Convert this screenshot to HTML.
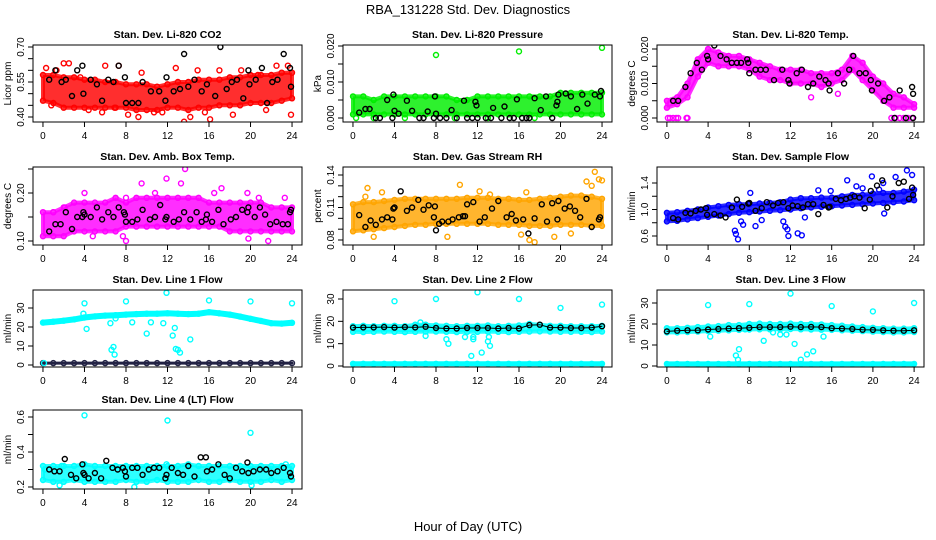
<!DOCTYPE html>
<html><head><meta charset="utf-8"><style>
html,body{margin:0;padding:0;background:#fff;}
svg{display:block;font-family:"Liberation Sans",sans-serif;}
</style></head><body>
<svg id="chart" width="936" height="540" viewBox="0 0 936 540">
<text x="468" y="14" text-anchor="middle" font-size="13">RBA_131228  Std. Dev. Diagnostics</text>
<text x="468" y="531" text-anchor="middle" font-size="13">Hour of Day (UTC)</text>
</svg>
<script>
const hours = [0,1,2,3,4,5,6,7,8,9,10,11,12,13,14,15,16,17,18,19,20,21,22,23,24];
const xTicks = [0,4,8,12,16,20,24];

// P1 CO2
const co2Hi = [0.58,0.58,0.57,0.57,0.56,0.56,0.55,0.55,0.54,0.54,0.54,0.53,0.54,0.55,0.55,0.56,0.56,0.56,0.57,0.57,0.58,0.58,0.58,0.59,0.59];
const co2Lo = [0.47,0.46,0.44,0.44,0.44,0.44,0.44,0.44,0.44,0.43,0.43,0.43,0.44,0.44,0.43,0.44,0.44,0.45,0.45,0.45,0.46,0.46,0.46,0.47,0.48];
const co2OutX = [0.3,1.3,2.0,2.5,3.6,5.7,6.0,7.3,8.2,9.2,10.7,11.5,13.6,14.2,14.9,16.1,17.0,18.3,19.1,20.7,22.5,23.6,23.9,0.8,4.4,6.9,9.5,12.8,15.6,21.5];
const co2OutY = [0.61,0.60,0.63,0.63,0.57,0.42,0.62,0.62,0.41,0.40,0.42,0.42,0.38,0.40,0.60,0.39,0.60,0.41,0.60,0.58,0.62,0.62,0.41,0.45,0.43,0.44,0.59,0.61,0.42,0.43];
const co2BX = [0.6,1.2,1.8,2.2,2.8,3.3,3.8,3.9,4.6,5.2,5.7,6.3,6.8,7.3,7.9,8.0,8.6,9.2,9.6,10.4,11.2,11.8,11.9,12.6,13.2,13.6,14.0,14.6,15.3,15.8,16.6,17.1,17.7,18.2,18.7,19.3,19.8,19.9,20.5,21.1,21.6,22.1,22.6,23.2,23.8,23.9];
const co2BY = [0.56,0.60,0.55,0.56,0.49,0.60,0.62,0.50,0.56,0.54,0.47,0.56,0.55,0.62,0.57,0.46,0.46,0.46,0.55,0.51,0.51,0.47,0.57,0.51,0.52,0.67,0.53,0.56,0.51,0.54,0.49,0.70,0.52,0.55,0.56,0.48,0.60,0.54,0.56,0.61,0.46,0.55,0.56,0.67,0.61,0.53];

// P2 pressure
const prHi = [0.006,0.006,0.005,0.006,0.006,0.006,0.006,0.006,0.006,0.006,0.005,0.005,0.006,0.006,0.006,0.006,0.006,0.006,0.006,0.006,0.007,0.007,0.007,0.007,0.007];
const prLo = [0.001,0.001,0.001,0.001,0.001,0.001,0.001,0.001,0.001,0.001,0.001,0.001,0.001,0.001,0.001,0.001,0.001,0.001,0.001,0.001,0.001,0.001,0.001,0.001,0.001];
const prOutX = [8.0,16.0,24.0,0.3,2.0,5.0,9.8,13.0,17.5];
const prOutY = [0.0175,0.0185,0.0195,0.0,0.0,0.0,0.0,0.0,0.0];
const prBX = [2.2,2.6,3.8,6.4,6.8,7.8,8.4,9.0,10.0,11.0,11.5,12.0,12.8,13.3,14.3,15.1,15.5,16.3,16.7,17.0,19.2,0.6,1.2,1.6,3.3,3.9,4.0,4.4,5.2,5.7,7.2,7.9,8.0,9.5,10.7,11.8,11.9,13.5,14.6,15.8,17.5,18.1,18.6,19.6,19.7,19.8,20.5,21.0,21.6,22.1,22.6,23.3,23.8,23.9];
const prBY = [0,0,0,0,0,0,0,0,0,0,0,0,0,0,0,0,0,0,0,0,0,0.0015,0.0025,0.0025,0.005,0.0065,0.002,0.0012,0.0048,0.002,0.0018,0.006,0.0012,0.0022,0.0048,0.0045,0.0035,0.0028,0.0032,0.0052,0.0055,0.0022,0.006,0.0035,0.0045,0.0065,0.0068,0.006,0.0025,0.0065,0.004,0.0065,0.006,0.0075];

// P3 Li-820 temp
const tmHi = [0.005,0.006,0.010,0.017,0.020,0.019,0.018,0.018,0.017,0.016,0.015,0.014,0.014,0.014,0.013,0.013,0.013,0.014,0.018,0.016,0.012,0.010,0.007,0.006,0.004];
const tmLo = [0.003,0.004,0.006,0.012,0.016,0.015,0.015,0.015,0.014,0.012,0.011,0.011,0.010,0.010,0.010,0.009,0.010,0.011,0.014,0.011,0.008,0.005,0.003,0.003,0.003];
const tmOutX = [0.1,0.3,0.6,0.9,1.1,1.9,2.0,21.8,22.2,22.6,23.0,23.4,23.8,14.0,16.6];
const tmOutY = [0,0,0,0,0,0,0,0,0,0,0,0,0,0.006,0.007];
const tmBX = [0.6,1.1,1.8,2.3,2.9,3.4,3.9,4.0,4.6,5.2,5.8,6.3,6.8,7.2,7.8,7.9,8.0,8.6,9.1,9.6,10.4,11.2,11.8,11.9,12.6,13.1,13.7,14.2,14.8,15.4,15.7,15.8,16.6,17.2,17.7,18.1,18.7,19.3,19.8,19.9,20.5,21.1,21.6,22.1,22.6,23.2,23.8,23.9,23.9];
const tmBY = [0.005,0.005,0.009,0.013,0.016,0.014,0.018,0.017,0.021,0.018,0.017,0.016,0.016,0.016,0.017,0.016,0.013,0.014,0.014,0.014,0.011,0.014,0.011,0.010,0.013,0.014,0.009,0.010,0.012,0.011,0.010,0.008,0.013,0.010,0.014,0.018,0.013,0.013,0.011,0.008,0.010,0.005,0.006,0.000,0.008,0.000,0.009,0.007,0.000];

// P4 amb box temp
const abHi = [0.16,0.16,0.17,0.18,0.18,0.18,0.18,0.19,0.18,0.19,0.19,0.19,0.19,0.19,0.19,0.19,0.18,0.18,0.18,0.18,0.18,0.18,0.17,0.17,0.17];
const abLo = [0.11,0.11,0.11,0.12,0.12,0.12,0.12,0.12,0.13,0.13,0.13,0.13,0.13,0.13,0.13,0.13,0.13,0.13,0.12,0.12,0.12,0.12,0.12,0.12,0.12];
const abOutX = [1.0,2.1,4.0,4.8,6.3,8.0,9.5,10.8,11.9,13.3,13.7,15.3,16.5,17.2,19.7,20.8,23.3,4.8,7.7,8.0,21.7,19.8];
const abOutY = [0.16,0.17,0.20,0.26,0.28,0.19,0.22,0.20,0.23,0.22,0.25,0.29,0.20,0.21,0.20,0.19,0.19,0.11,0.11,0.10,0.10,0.105];
const abBX = [0.6,1.2,1.7,2.2,2.8,3.3,3.8,3.9,4.0,4.6,5.2,5.7,6.3,6.8,7.3,7.8,7.9,8.0,8.6,9.1,9.6,10.3,10.8,11.3,11.8,11.9,12.6,13.1,13.6,14.2,14.8,15.3,15.7,15.8,16.3,16.9,17.4,18.1,18.6,19.2,19.7,19.8,20.4,20.9,21.4,21.9,22.5,23.1,23.6,23.8,23.9];
const abBY = [0.12,0.135,0.135,0.16,0.125,0.15,0.15,0.16,0.155,0.15,0.17,0.145,0.16,0.15,0.17,0.16,0.155,0.14,0.14,0.145,0.165,0.145,0.15,0.175,0.145,0.15,0.14,0.145,0.16,0.145,0.16,0.14,0.145,0.155,0.14,0.165,0.135,0.145,0.15,0.165,0.16,0.17,0.15,0.17,0.155,0.135,0.14,0.135,0.135,0.16,0.165];

// P5 gas stream RH
const rhHi = [0.113,0.115,0.115,0.116,0.117,0.118,0.118,0.118,0.118,0.118,0.118,0.119,0.119,0.119,0.118,0.118,0.117,0.117,0.118,0.119,0.120,0.121,0.121,0.120,0.118];
const rhLo = [0.088,0.089,0.090,0.091,0.092,0.093,0.094,0.094,0.095,0.095,0.095,0.095,0.095,0.095,0.094,0.094,0.094,0.093,0.093,0.093,0.094,0.094,0.094,0.093,0.093];
const rhOutX = [1.4,1.2,2.8,10.3,12.2,13.2,16.7,17.0,22.5,23.3,23.0,23.7,24.0,2.0,9.1,16.2,17.5,19.4,21.0];
const rhOutY = [0.128,0.120,0.124,0.131,0.125,0.122,0.124,0.080,0.134,0.143,0.130,0.136,0.135,0.083,0.083,0.085,0.078,0.083,0.086];
const rhBX = [0.6,1.2,1.7,2.2,2.8,3.3,3.8,3.9,4.0,4.6,5.2,5.7,6.3,6.8,7.3,7.8,7.9,8.0,8.3,8.6,9.2,9.6,10.2,10.6,10.8,11.0,11.6,12.2,12.7,13.4,14.0,14.8,15.3,15.7,16.4,16.9,17.5,18.2,18.7,19.2,19.7,19.8,20.4,20.9,21.4,21.9,22.5,23.0,23.7,23.8];
const rhBY = [0.103,0.092,0.098,0.094,0.099,0.101,0.099,0.109,0.110,0.125,0.107,0.110,0.117,0.108,0.112,0.101,0.111,0.089,0.095,0.097,0.097,0.099,0.101,0.102,0.102,0.113,0.115,0.097,0.101,0.109,0.116,0.101,0.104,0.098,0.099,0.086,0.100,0.113,0.097,0.114,0.099,0.116,0.109,0.111,0.107,0.101,0.118,0.092,0.099,0.101];

// P6 sample flow
const sfHi = [0.95,0.96,0.98,1.00,1.03,1.05,1.07,1.08,1.08,1.09,1.10,1.11,1.15,1.17,1.17,1.18,1.18,1.20,1.22,1.22,1.24,1.25,1.25,1.27,1.30];
const sfLo = [0.82,0.83,0.85,0.87,0.89,0.91,0.93,0.95,0.96,0.97,0.98,0.99,1.00,1.02,1.03,1.04,1.05,1.06,1.07,1.08,1.09,1.10,1.11,1.12,1.14];
const sfOutX = [6.6,6.7,6.9,7.2,7.4,8.1,8.6,9.2,11.3,11.5,11.7,11.8,12.7,13.1,13.4,14.7,15.9,17.5,18.4,19.0,19.9,21.1,22.2,23.3,23.8,21.0,20.6];
const sfOutY = [0.68,0.63,0.55,0.82,0.77,1.25,0.75,0.84,0.82,0.74,0.70,0.60,0.64,0.61,0.88,1.29,1.28,1.44,1.35,1.32,1.50,0.94,1.49,1.59,1.52,1.40,1.30];
const sfBX = [0.6,1.1,1.8,2.3,2.8,3.3,3.8,3.9,4.6,5.2,5.7,6.3,6.8,7.3,7.9,8.0,8.6,9.2,9.7,10.3,10.8,11.3,11.8,12.2,12.7,13.2,13.7,14.2,14.7,15.2,15.7,15.8,16.4,16.9,17.4,17.8,18.2,18.7,19.2,19.7,19.8,20.4,20.9,21.4,21.9,22.5,23.0,23.5,23.8,23.9];
const sfBY = [0.87,0.85,0.95,0.94,0.98,1.00,1.02,0.92,0.93,0.91,0.88,1.03,1.15,1.04,1.09,1.10,0.98,1.02,1.11,1.06,1.10,1.11,1.02,1.06,1.05,1.03,1.08,1.08,0.93,1.07,1.03,1.04,1.16,1.14,1.16,1.18,1.20,1.18,1.02,1.15,1.28,1.36,1.44,1.03,1.20,1.40,1.42,1.16,1.33,1.22];

// P7 line 1 flow
const l1Curve = [22.3,22.8,23.3,24.0,25.0,25.6,26.0,26.2,26.5,26.8,27.0,27.0,27.2,27.0,26.8,27.0,27.8,27.2,26.5,25.5,24.3,23.2,22.0,21.8,22.2];
const l1Zero = [1,1,1,1,1,1,1,1,1,1,1,1,1,1,1,1,1,1,1,1,1,1,1,1,1];
const l1OutX = [4.0,4.2,3.9,6.5,6.6,6.8,6.9,7.0,8.0,8.6,10.0,10.4,11.6,11.9,12.5,12.7,12.8,13.0,13.2,14.2,16.0,20.0,24.0,0.1];
const l1OutY = [32.5,19,27,22,8,9.5,5.5,24.5,33.5,22.5,16.5,22.5,22,38,15.5,19.5,8.5,8,6.5,13.5,34,33.5,32.5,1];

// P8 line 2 flow
const l2Hi = [17.8,18.0,17.8,18.0,18.0,17.8,18.5,18.5,18.2,18.0,17.8,18.0,18.0,18.2,17.8,18.0,18.2,18.8,18.5,18.0,18.0,17.8,17.8,17.8,18.0];
const l2Lo = [15.3,15.2,15.3,15.4,15.3,15.2,15.3,15.4,15.4,15.3,15.2,15.3,15.3,15.4,15.3,15.2,15.3,15.4,15.5,15.4,15.3,15.3,15.3,15.2,15.4];
const l2Black = [17.2,17.3,17.3,17.4,17.2,17.4,17.3,17.6,17.0,16.8,16.8,17.0,17.0,17.0,16.8,17.0,16.8,18.3,18.5,17.2,17.2,17.0,17.0,17.2,17.8];
const l2Zero = [1,1,1,1,1,1,1,1,1,1,1,1,1,1,1,1,1,1,1,1,1,1,1,1,1];
const l2OutX = [4.0,8.0,12.0,16.0,20.0,24.0,9.0,9.2,10.8,11.4,11.6,11.6,12.4,13.0,13.2,6.5,7.0,13.1];
const l2OutY = [29,30,33,30,26,27.5,12,10,13,4.5,12,13,6,11,9,19.5,13.5,13];

// P9 line 3 flow
const l3Hi = [18.0,18.0,18.2,18.5,18.8,19.0,19.5,19.5,20.0,20.2,20.0,20.0,20.2,20.0,20.0,19.8,19.5,19.2,18.8,18.5,18.2,18.0,17.8,17.8,18.0];
const l3Lo = [16.0,16.0,16.2,16.4,16.6,16.8,17.0,17.2,17.4,17.5,17.5,17.5,17.6,17.5,17.4,17.3,17.2,17.0,16.8,16.6,16.4,16.2,16.0,16.0,16.2];
const l3Black = [16.5,16.8,17.0,17.0,17.4,17.6,17.8,18.0,18.2,18.5,18.5,18.5,18.7,18.5,18.6,18.5,18.0,17.8,17.6,17.3,17.2,17.0,16.8,16.8,17.0];
const l3Zero = [1,1,1,1,1,1,1,1,1,1,1,1,1,1,1,1,1,1,1,1,1,1,1,1,1];
const l3OutX = [4.0,8.0,12.0,16.0,20.0,24.0,6.7,6.9,7.0,9.4,10.3,11.0,11.6,12.4,13.6,15.2,7.6,14.2,13.0,4.2];
const l3OutY = [29,29.5,34.5,28.5,26,30,5,3,8,12,16,15,15,10.5,5.5,14,17.5,7,3,14];

// P10 line 4 flow
const l4Hi = [0.32,0.32,0.32,0.32,0.33,0.32,0.32,0.32,0.32,0.32,0.32,0.32,0.32,0.32,0.33,0.32,0.32,0.32,0.32,0.32,0.32,0.32,0.32,0.32,0.32];
const l4Lo = [0.24,0.23,0.23,0.24,0.23,0.23,0.23,0.23,0.24,0.23,0.23,0.24,0.23,0.23,0.23,0.24,0.23,0.23,0.24,0.23,0.23,0.23,0.24,0.23,0.24];
const l4OutX = [4.0,12.0,20.0,0.2,1.8,8.8,20.1,23.4,1.6,11.9];
const l4OutY = [0.61,0.58,0.51,0.30,0.32,0.20,0.21,0.33,0.21,0.33];
const l4BX = [0.6,1.1,1.6,2.1,2.7,3.2,3.8,3.9,4.0,4.4,5.0,5.6,6.1,6.7,7.2,7.7,7.9,8.0,8.6,9.1,9.6,10.2,10.7,11.2,11.8,11.9,12.4,13.0,13.5,14.0,14.6,15.2,15.7,15.8,16.3,16.9,17.5,18.0,18.6,19.2,19.7,19.8,20.3,20.9,21.5,22.0,22.6,23.2,23.8,23.9];
const l4BY = [0.30,0.29,0.29,0.36,0.27,0.25,0.33,0.28,0.27,0.25,0.28,0.25,0.35,0.31,0.30,0.31,0.29,0.26,0.31,0.31,0.27,0.30,0.31,0.31,0.25,0.27,0.31,0.28,0.27,0.32,0.26,0.37,0.37,0.29,0.30,0.33,0.27,0.25,0.31,0.29,0.34,0.28,0.29,0.30,0.30,0.28,0.29,0.31,0.28,0.26];

const NS = 'http://www.w3.org/2000/svg';
const svg = document.getElementById('chart');
function mk(tag, attrs, parent) {
  const e = document.createElementNS(NS, tag);
  for (const k in attrs) e.setAttribute(k, attrs[k]);
  (parent || svg).appendChild(e);
  return e;
}
const cols = [[33,302],[343,612],[657,924]];
const rows = [[45,122],[167,245],[290,367],[410,489]];

function panel(cfg) {
  const [x0,x1] = cols[cfg.c], [y0,y1] = rows[cfg.r];
  const g = mk('g', {});
  
  
  const xs = v => x0 + (v + 0.96) / 25.92 * (x1 - x0);
  const ys = v => cfg.p0 + (v - cfg.v0) / (cfg.v1 - cfg.v0) * (cfg.p1 - cfg.p0);
  const clip = 'clip' + cfg.name;
  const cp = mk('clipPath', {id: clip}, g);
  mk('rect', {x: x0, y: y0, width: x1 - x0, height: y1 - y0}, cp);
  const plot = mk('g', {'clip-path': 'url(#' + clip + ')'}, g);
  
  
  function dot(x, y, col) {
    const c = mk('circle', {cx: xs(x).toFixed(1), cy: ys(y).toFixed(1), r: 2.5, fill: 'none', stroke: col, 'stroke-width': 1.4}, plot);
    
    
  }
  function band(hi, lo, col) {
    let d = hours.map((h,i) => (i ? 'L' : 'M') + xs(h).toFixed(1) + ',' + ys(hi[i]).toFixed(1)).join('');
    for (let i = hours.length - 1; i >= 0; i--) d += 'L' + xs(hours[i]).toFixed(1) + ',' + ys(lo[i]).toFixed(1);
    const p = mk('path', {d: d + 'Z', fill: col, 'fill-opacity': 0.82, stroke: col, 'stroke-opacity': 0.82, 'stroke-width': 4, 'stroke-linejoin': 'round'}, plot);
    
    
    hours.forEach((h,i) => { dot(h, hi[i], col); dot(h, lo[i], col); });
  }
  function line(vals, col, w) {
    const d = hours.map((h,i) => (i ? 'L' : 'M') + xs(h).toFixed(1) + ',' + ys(vals[i]).toFixed(1)).join('');
    const p = mk('path', {d: d, fill: 'none', stroke: col, 'stroke-width': w, 'stroke-linecap': 'round'}, plot);
    
    
    hours.forEach((h,i) => dot(h, vals[i], col));
  }
  cfg.draw({band, line, dot});
  const box = mk('rect', {x: x0, y: y0, width: x1 - x0, height: y1 - y0, fill: 'none', stroke: '#000', 'stroke-width': 1}, g);
  
  
  xTicks.forEach(t => {
    const X = xs(t);
    mk('line', {x1: X, x2: X, y1: y1, y2: y1 + 5, stroke: '#000'}, g);
    const tx = mk('text', {x: X, y: y1 + 17, 'text-anchor': 'middle', 'font-size': 10}, g);
    tx.textContent = t;
    
    
  });
  mk('line', {x1: xs(0), x2: xs(24), y1: y1, y2: y1, stroke: '#000'}, g);
  cfg.ticks.forEach(t => {
    const Y = ys(t);
    mk('line', {x1: x0 - 5, x2: x0, y1: Y, y2: Y, stroke: '#000'}, g);
  });
  mk('line', {x1: x0, x2: x0, y1: ys(cfg.ticks[0]), y2: ys(cfg.ticks[cfg.ticks.length-1]), stroke: '#000'}, g);
  cfg.labels.forEach(lb => {
    const Y = ys(parseFloat(lb));
    const tx = mk('text', {x: x0 - 9, y: Y, 'text-anchor': 'middle', 'font-size': 10, transform: 'rotate(-90 ' + (x0 - 9) + ' ' + Y + ')'}, g);
    tx.textContent = lb;
    
    
  });
  const yc = (y0 + y1) / 2;
  const yt = mk('text', {x: x0 - 22, y: yc, 'text-anchor': 'middle', 'font-size': 10, transform: 'rotate(-90 ' + (x0 - 22) + ' ' + yc + ')'}, g);
  yt.textContent = cfg.ylab;
  
  
  const tt = mk('text', {x: (x0 + x1) / 2, y: y0 - 7, 'text-anchor': 'middle', 'font-size': 10.5, 'font-weight': 'bold'}, g);
  tt.textContent = cfg.title;
  
  
}

const RED='#ff0000', GRN='#00ee00', MAG='#ff00ff', ORG='#ffa500', BLU='#0000ff', CY='#00ffff', BK='#000';

panel({name:'co2-panel', c:0, r:0, v0:0.40, p0:117, v1:0.70, p1:47, ticks:[0.40,0.45,0.50,0.55,0.60,0.65,0.70], labels:['0.40','0.55','0.70'], ylab:'Licor ppm', title:'Stan. Dev. Li-820 CO2',
  draw: ({band,dot}) => { band(co2Hi, co2Lo, RED); co2OutX.forEach((x,i)=>dot(x,co2OutY[i],RED)); co2BX.forEach((x,i)=>dot(x,co2BY[i],BK)); }});
panel({name:'pressure-panel', c:1, r:0, v0:0, p0:118, v1:0.02, p1:46, ticks:[0,0.005,0.010,0.015,0.020], labels:['0.000','0.010','0.020'], ylab:'kPa', title:'Stan. Dev. Li-820 Pressure',
  draw: ({band,dot}) => { band(prHi, prLo, GRN); prOutX.forEach((x,i)=>dot(x,prOutY[i],GRN)); prBX.forEach((x,i)=>dot(x,prBY[i],BK)); }});
panel({name:'li820-temp-panel', c:2, r:0, v0:0, p0:118, v1:0.02, p1:49, ticks:[0,0.005,0.010,0.015,0.020], labels:['0.000','0.010','0.020'], ylab:'degrees C', title:'Stan. Dev. Li-820 Temp.',
  draw: ({band,dot}) => { band(tmHi, tmLo, MAG); tmOutX.forEach((x,i)=>dot(x,tmOutY[i],MAG)); tmBX.forEach((x,i)=>dot(x,tmBY[i],BK)); }});
panel({name:'amb-box-temp-panel', c:0, r:1, v0:0.10, p0:241, v1:0.20, p1:193, ticks:[0.10,0.15,0.20,0.25], labels:['0.10','0.20'], ylab:'degrees C', title:'Stan. Dev. Amb. Box Temp.',
  draw: ({band,dot}) => { band(abHi, abLo, MAG); abOutX.forEach((x,i)=>dot(x,abOutY[i],MAG)); abBX.forEach((x,i)=>dot(x,abBY[i],BK)); }});
panel({name:'gas-rh-panel', c:1, r:1, v0:0.08, p0:240, v1:0.14, p1:175, ticks:[0.08,0.09,0.10,0.11,0.12,0.13,0.14], labels:['0.08','0.11','0.14'], ylab:'percent', title:'Stan. Dev. Gas Stream RH',
  draw: ({band,dot}) => { band(rhHi, rhLo, ORG); rhOutX.forEach((x,i)=>dot(x,rhOutY[i],ORG)); rhBX.forEach((x,i)=>dot(x,rhBY[i],BK)); }});
panel({name:'sample-flow-panel', c:2, r:1, v0:0.6, p0:236, v1:1.4, p1:183, ticks:[0.6,0.8,1.0,1.2,1.4], labels:['0.6','1.0','1.4'], ylab:'ml/min', title:'Stan. Dev. Sample Flow',
  draw: ({band,dot}) => { band(sfHi, sfLo, BLU); sfOutX.forEach((x,i)=>dot(x,sfOutY[i],BLU)); sfBX.forEach((x,i)=>dot(x,sfBY[i],BK)); }});
panel({name:'line1-flow-panel', c:0, r:2, v0:0, p0:365, v1:30, p1:308, ticks:[0,10,20,30], labels:['0','10','20','30'], ylab:'ml/min', title:'Stan. Dev. Line 1 Flow',
  draw: ({line,dot}) => { line(l1Curve, CY, 6); line(l1Zero, '#224', 3); l1OutX.forEach((x,i)=>dot(x,l1OutY[i],CY)); }});
panel({name:'line2-flow-panel', c:1, r:2, v0:0, p0:366, v1:30, p1:299, ticks:[0,10,20,30], labels:['0','10','20','30'], ylab:'ml/min', title:'Stan. Dev. Line 2 Flow',
  draw: ({band,line,dot}) => { band(l2Hi, l2Lo, CY); line(l2Zero, CY, 5); l2OutX.forEach((x,i)=>dot(x,l2OutY[i],CY)); line(l2Black, BK, 1); }});
panel({name:'line3-flow-panel', c:2, r:2, v0:0, p0:366, v1:30, p1:303, ticks:[0,10,20,30], labels:['0','10','20','30'], ylab:'ml/min', title:'Stan. Dev. Line 3 Flow',
  draw: ({band,line,dot}) => { band(l3Hi, l3Lo, CY); line(l3Zero, CY, 5); l3OutX.forEach((x,i)=>dot(x,l3OutY[i],CY)); line(l3Black, BK, 1); }});
panel({name:'line4-flow-panel', c:0, r:3, v0:0.2, p0:487, v1:0.6, p1:417, ticks:[0.2,0.3,0.4,0.5,0.6], labels:['0.2','0.4','0.6'], ylab:'ml/min', title:'Stan. Dev. Line 4 (LT) Flow',
  draw: ({band,dot}) => { band(l4Hi, l4Lo, CY); l4OutX.forEach((x,i)=>dot(x,l4OutY[i],CY)); l4BX.forEach((x,i)=>dot(x,l4BY[i],BK)); }});
</script>
</body></html>
